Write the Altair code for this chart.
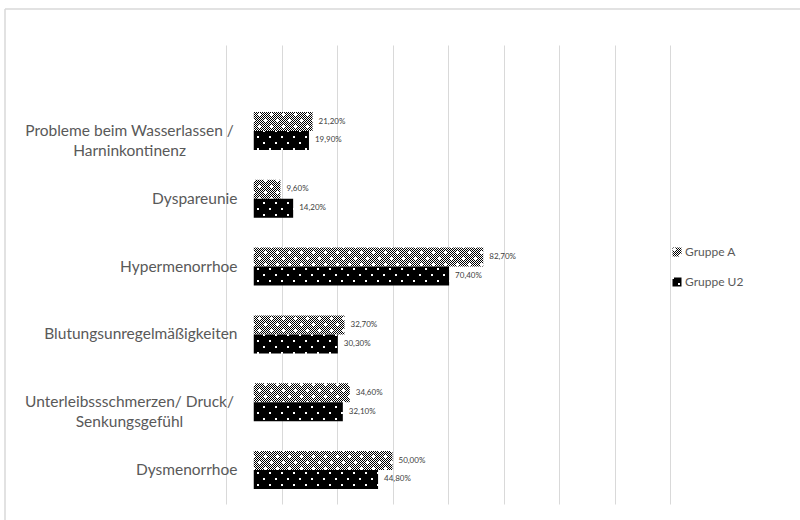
import altair as alt
import jinja2
import pandas as pd

# Beschwerden (Zeilenumbruch in der Beschriftung mit "|")
kategorien = [
    "Probleme beim Wasserlassen /|Harninkontinenz",
    "Dyspareunie",
    "Hypermenorrhoe",
    "Blutungsunregelmäßigkeiten",
    "Unterleibssschmerzen/ Druck/|Senkungsgefühl",
    "Dysmenorrhoe",
]
gruppen = ["Gruppe A", "Gruppe U2"]
werte_gruppe_a = [21.2, 9.6, 82.7, 32.7, 34.6, 50.0]
werte_gruppe_u2 = [19.9, 14.2, 70.4, 30.3, 32.1, 44.8]
gitter_werte = [-10, 10, 30, 50, 70, 90, 110, 130, 150]

df = pd.DataFrame(
    {
        "Kategorie": kategorien * 2,
        "Gruppe": [gruppen[0]] * len(kategorien) + [gruppen[1]] * len(kategorien),
        "Wert": werte_gruppe_a + werte_gruppe_u2,
    }
)

SCHRIFT = "Lato"
GRAU_TEXT = "#595959"
RAHMEN_FARBE = "#d9d9d9"


# Fuellmuster fuer die Balken als SVG-Pattern
def _pixel(coords):
    return "".join(f"M{x} {y}h1v1h-1z" for x, y in coords)


def _muster_a():
    n = 12
    weiss = [(x, y) for y in range(n) for x in range(n) if (x + y) % 2 == 0]
    for cx, cy in [(3, 3), (9, 9)]:
        weiss += [(cx - 1, cy), (cx + 1, cy), (cx, cy - 1), (cx, cy + 1)]
    return (
        f'<pattern id="musterA" patternUnits="userSpaceOnUse" width="{n}" height="{n}">'
        f'<rect width="{n}" height="{n}" fill="#000"/>'
        f'<path d="{_pixel(weiss)}" fill="#fff" shape-rendering="crispEdges"/>'
        "</pattern>"
    )


def _muster_u2():
    n = 12
    punkte = [(1, 1), (2, 1), (1, 2), (2, 2), (7, 7), (8, 7), (7, 8), (8, 8)]
    return (
        f'<pattern id="musterU2" patternUnits="userSpaceOnUse" width="{n}" height="{n}">'
        f'<rect width="{n}" height="{n}" fill="#000"/>'
        f'<path d="{_pixel(punkte)}" fill="#fff" shape-rendering="crispEdges"/>'
        "</pattern>"
    )


DEFS = (
    '<svg width="0" height="0" style="position:absolute" aria-hidden="true"><defs>'
    + _muster_a()
    + _muster_u2()
    + "</defs></svg>"
)

SEITE = jinja2.Template(
    """<!DOCTYPE html>
<html>
<head>
  <style>
    html, body { overflow: hidden; }
    #{{ output_div }}.vega-embed { width: 100%; display: flex; }
    #{{ output_div }}.vega-embed details,
    #{{ output_div }}.vega-embed details summary { position: relative; }
  </style>
  <script type="text/javascript" src="{{ base_url }}/vega@{{ vega_version }}"></script>
  <script type="text/javascript" src="{{ base_url }}/vega-lite@{{ vegalite_version }}"></script>
  <script type="text/javascript" src="{{ base_url }}/vega-embed@{{ vegaembed_version }}"></script>
</head>
<body>
  """
    + DEFS
    + """
  <div id="{{ output_div }}"></div>
  <script>
    vegaEmbed("#{{ output_div }}", {{ spec }}, {{ embed_options }}).catch(console.error);
  </script>
</body>
</html>
"""
)

mehrzeilig = "indexof(datum.value, '|') >= 0"

y_enc = alt.Y(
    "Kategorie:N",
    sort=kategorien,
    scale=alt.Scale(paddingInner=0.44, paddingOuter=0.605, align=0.817),
    axis=alt.Axis(
        title=None,
        domain=False,
        ticks=False,
        grid=False,
        offset=-28,
        labelExpr="split(datum.label, '|')",
        labelFont=SCHRIFT,
        labelFontSize=15.5,
        labelColor=GRAU_TEXT,
        labelLineHeight=20,
        labelLimit=0,
        labelAlign={"condition": {"test": mehrzeilig, "value": "center"}, "value": "right"},
        labelPadding={"condition": {"test": mehrzeilig, "value": 125}, "value": 17},
    ),
)
y_off = alt.YOffset("Gruppe:N", sort=gruppen, scale=alt.Scale(paddingInner=0, paddingOuter=0))
x_enc = alt.X(
    "Wert:Q",
    scale=alt.Scale(domain=[-10, 150], nice=False, zero=False),
    axis=alt.Axis(
        values=gitter_werte,
        grid=True,
        gridColor=RAHMEN_FARBE,
        gridWidth=1,
        labels=False,
        ticks=False,
        domain=False,
        title=None,
    ),
)

basis = alt.Chart(df)

balken = basis.mark_bar(strokeWidth=0).encode(
    y=y_enc,
    yOffset=y_off,
    x=x_enc,
    x2=alt.datum(0),
    fill=alt.Fill(
        "Gruppe:N",
        scale=alt.Scale(domain=gruppen, range=["url(#musterA)", "url(#musterU2)"]),
        legend=alt.Legend(
            title=None,
            orient="none",
            legendX=445,
            legendY=201,
            symbolType="square",
            symbolSize=81,
            symbolStrokeWidth=0,
            labelFont=SCHRIFT,
            labelFontSize=12,
            labelColor=GRAU_TEXT,
            labelOffset=2,
            rowPadding=18,
        ),
    ),
)

beschriftung = (
    basis.transform_calculate(
        Text="replace(format(datum.Wert, '.2f'), '.', ',') + '%'"
    )
    .mark_text(align="left", baseline="middle", dx=6, font=SCHRIFT, fontSize=8, color="#404040")
    .encode(y=alt.Y("Kategorie:N", sort=kategorien), yOffset=alt.YOffset("Gruppe:N", sort=gruppen), x="Wert:Q", text="Text:N")
)

# Diagrammrahmen oben und links (rechts und unten ausserhalb der Seite)
rahmen_daten = pd.DataFrame({"r": [0]})
rahmen_oben = (
    alt.Chart(rahmen_daten)
    .mark_rule(stroke=RAHMEN_FARBE, strokeWidth=1.5)
    .encode(x=alt.value(-221), x2=alt.value(600), y=alt.value(-36))
)
rahmen_links = (
    alt.Chart(rahmen_daten)
    .mark_rule(stroke=RAHMEN_FARBE, strokeWidth=1.5)
    .encode(x=alt.value(-221), y=alt.value(-36), y2=alt.value(500))
)

chart = (
    alt.layer(rahmen_oben, rahmen_links, balken, beschriftung)
    .properties(
        width=444,
        height=459,
        autosize=alt.AutoSizeParams(type="none"),
        padding={"left": 226, "top": 45, "right": 130, "bottom": 16},
        background="#ffffff",
    )
    .configure_view(strokeWidth=0)
)

chart.save(
    "out.html",
    embed_options={"renderer": "svg", "actions": False},
    template=SEITE,
)
